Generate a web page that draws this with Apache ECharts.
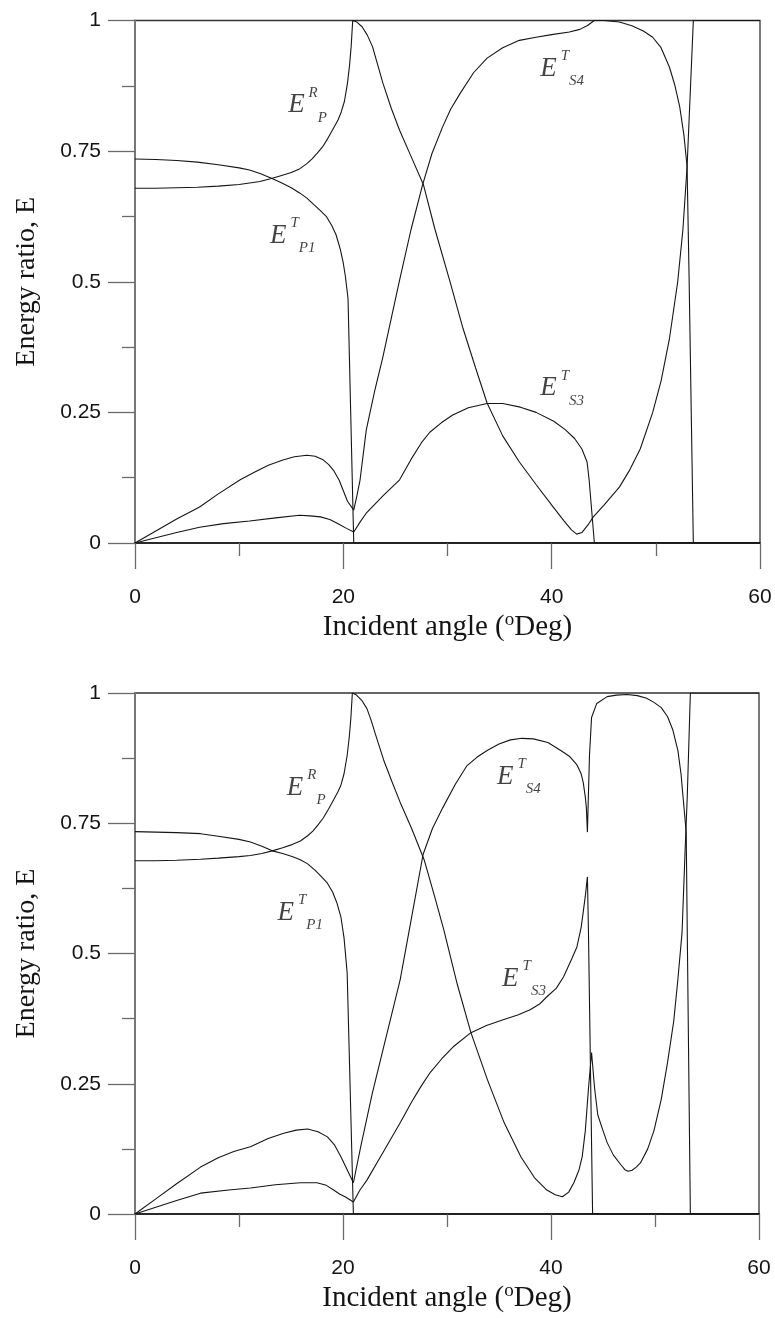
<!DOCTYPE html>
<html>
<head>
<meta charset="utf-8">
<script src="https://cdn.jsdelivr.net/npm/echarts@6/dist/echarts.min.js"></script>
<style>
html,body{margin:0;padding:0;background:#fff;}
#c{width:775px;height:1318px;}
</style>
</head>
<body>
<div id="c"></div>
<script>
// ---------- tick labels ----------
const xTicks = [0, 20, 40, 60];
const yTicks = [0, 0.25, 0.5, 0.75, 1];

// ---------- top panel series: [incident angle (deg), energy ratio] ----------
const topRP = [[0,0.679],[2,0.679],[4,0.68],[6,0.681],[8,0.683],[10,0.686],[11,0.689],[12,0.692],[13,0.697],[14,0.703],[15,0.709],[15.8,0.716],[16.5,0.726],[17,0.735],[17.5,0.746],[18,0.758],[18.5,0.774],[19,0.792],[19.5,0.81],[19.8,0.825],[20.1,0.845],[20.4,0.88],[20.6,0.915],[20.75,0.95],[20.9,1.0],[21.3,0.997],[21.8,0.988],[22.3,0.972],[22.8,0.95],[23.3,0.915],[23.8,0.88],[24.6,0.832],[25.4,0.79],[26.5,0.74],[27.7,0.685],[28.8,0.6],[30.2,0.503],[31.5,0.41],[32.7,0.335],[33.8,0.268],[35.3,0.205],[36.9,0.155],[38.5,0.112],[40.1,0.07],[41.2,0.042],[41.9,0.025],[42.4,0.017],[42.9,0.02],[43.5,0.035],[44,0.05],[45,0.072],[46.5,0.107],[47.5,0.14],[48.5,0.18],[49.7,0.25],[50.5,0.31],[51.3,0.39],[52.1,0.5],[52.6,0.6],[53,0.72],[53.3,0.86],[53.6,1.0],[60,1.0]];
const topTP1 = [[0,0.735],[2,0.734],[4,0.732],[6,0.729],[8,0.724],[10,0.718],[11,0.714],[12,0.707],[13.1,0.698],[14,0.69],[15,0.68],[15.8,0.67],[16.5,0.66],[17.2,0.647],[17.8,0.636],[18.4,0.624],[18.9,0.607],[19.3,0.59],[19.7,0.563],[20,0.535],[20.2,0.51],[20.45,0.468],[21.0,0],[60,0]];
const topTS4 = [[0,0],[2,0.023],[4,0.046],[6.2,0.069],[8,0.094],[10.1,0.121],[11.5,0.136],[12.8,0.149],[14.2,0.159],[15.3,0.165],[16.5,0.168],[17.3,0.166],[18,0.16],[18.6,0.15],[19.1,0.138],[19.6,0.12],[20,0.1],[20.4,0.08],[21.0,0.063],[21.3,0.09],[21.6,0.12],[22.2,0.216],[23,0.29],[23.8,0.356],[24.6,0.43],[25.4,0.503],[26.5,0.6],[27.6,0.685],[28.5,0.745],[29.5,0.795],[30.3,0.83],[31.2,0.86],[32.5,0.9],[33.8,0.928],[35.3,0.948],[36.9,0.962],[38.5,0.968],[40,0.973],[41.7,0.978],[42.7,0.983],[43.4,0.99],[44.1,1.0],[45,1.0],[46.5,0.997],[47.7,0.99],[48.8,0.98],[49.7,0.968],[50.5,0.948],[51.3,0.911],[51.8,0.878],[52.3,0.834],[52.7,0.78],[53,0.72],[53.2,0.5],[53.4,0.25],[53.6,0],[60,0]];
const topTS3 = [[0,0],[2,0.01],[4,0.02],[6.2,0.03],[8.5,0.037],[11,0.042],[13.5,0.048],[15.8,0.053],[16.8,0.052],[17.8,0.05],[18.7,0.045],[19.5,0.037],[20.3,0.028],[21.0,0.021],[21.6,0.04],[22.2,0.057],[23.8,0.09],[25.4,0.121],[26.5,0.16],[27.5,0.192],[28.3,0.212],[29.4,0.23],[30.5,0.245],[32,0.259],[33.8,0.267],[35.3,0.267],[37,0.26],[38.5,0.25],[40.2,0.233],[41.3,0.217],[42.2,0.2],[42.9,0.18],[43.4,0.155],[43.6,0.12],[44.1,0],[60,0]];

// ---------- bottom panel series ----------
const botRP = [[0,0.678],[2,0.678],[4,0.679],[6.3,0.681],[8,0.683],[10,0.686],[11.1,0.688],[12.2,0.692],[13.2,0.697],[14.2,0.703],[15.1,0.709],[15.9,0.716],[16.6,0.726],[17.1,0.735],[17.6,0.747],[18.1,0.76],[18.6,0.777],[19.1,0.795],[19.5,0.81],[19.8,0.823],[20.1,0.845],[20.4,0.88],[20.6,0.915],[20.75,0.95],[20.9,1.0],[21.3,0.996],[21.8,0.986],[22.3,0.97],[22.7,0.948],[23.1,0.922],[23.9,0.872],[24.7,0.83],[25.5,0.79],[26.6,0.74],[27.8,0.68],[28.8,0.61],[29.7,0.545],[31,0.44],[32.3,0.348],[33.9,0.257],[35.5,0.175],[37.1,0.11],[38.4,0.07],[39.6,0.046],[40.4,0.037],[41.1,0.033],[41.7,0.042],[42.2,0.06],[42.7,0.085],[43.0,0.11],[43.3,0.16],[43.6,0.24],[43.9,0.31],[44.2,0.24],[44.5,0.19],[45,0.16],[45.4,0.137],[46,0.113],[46.7,0.095],[47.1,0.085],[47.4,0.082],[47.8,0.084],[48.2,0.09],[48.6,0.098],[49.3,0.125],[49.9,0.16],[50.6,0.22],[51.2,0.29],[51.8,0.37],[52.2,0.45],[52.6,0.54],[52.9,0.70],[53.1,0.80],[53.4,1.0],[60,1.0]];
const botTP1 = [[0,0.734],[2,0.733],[4,0.732],[6.3,0.73],[8,0.725],[10,0.719],[11.1,0.714],[12.2,0.706],[13.2,0.697],[14.2,0.692],[15.1,0.686],[15.9,0.68],[16.6,0.672],[17.3,0.66],[17.9,0.648],[18.5,0.635],[19,0.618],[19.4,0.598],[19.8,0.57],[20.1,0.53],[20.4,0.463],[21.0,0],[60,0]];
const botTS4 = [[0,0],[2,0.029],[4,0.058],[6.3,0.09],[8,0.108],[9.5,0.12],[11.1,0.129],[12.8,0.145],[14.3,0.155],[15.5,0.161],[16.6,0.163],[17.6,0.158],[18.5,0.148],[19.2,0.132],[19.8,0.11],[20.4,0.085],[21.0,0.06],[21.7,0.129],[22.8,0.23],[23.9,0.32],[25.5,0.45],[26.6,0.57],[27.7,0.69],[28.6,0.74],[29.6,0.78],[30.8,0.825],[31.9,0.86],[32.9,0.877],[33.9,0.89],[35,0.902],[36.1,0.91],[37.2,0.913],[38.3,0.912],[39.7,0.905],[40.9,0.89],[41.8,0.878],[42.5,0.862],[42.9,0.845],[43.1,0.828],[43.3,0.8],[43.4,0.78],[43.5,0.733],[43.7,0.88],[43.9,0.953],[44.4,0.98],[45.4,0.993],[46.3,0.996],[47.3,0.997],[48.3,0.995],[49.2,0.99],[49.9,0.982],[50.6,0.972],[51.2,0.955],[51.7,0.93],[52.2,0.89],[52.5,0.845],[52.7,0.8],[53.0,0.733],[53.1,0.545],[53.4,0],[60,0]];
const botTS3 = [[0,0],[2,0.013],[4,0.026],[6.3,0.04],[9,0.046],[11.1,0.05],[13.5,0.056],[15.9,0.06],[17.5,0.06],[18.4,0.055],[19.1,0.046],[19.7,0.038],[20.2,0.033],[21.0,0.023],[21.6,0.045],[22.3,0.065],[23.9,0.12],[25.5,0.175],[26.6,0.215],[27.5,0.245],[28.4,0.272],[29.5,0.298],[30.6,0.321],[32.3,0.348],[33.8,0.362],[35.4,0.373],[36.8,0.382],[38.0,0.392],[38.9,0.403],[39.6,0.417],[40.5,0.433],[41.2,0.455],[42.0,0.49],[42.5,0.513],[42.9,0.55],[43.1,0.58],[43.3,0.61],[43.5,0.647],[43.6,0.545],[44.0,0],[60,0]];

// ---------- curve annotations: [x, y, superscript, subscript] ----------
const topLabels = [[14.7,0.838,'R','P'],[12.96,0.588,'T','P1'],[38.9,0.908,'T','S4'],[38.9,0.296,'T','S3']];
const botLabels = [[14.6,0.818,'R','P'],[13.7,0.578,'T','P1'],[34.8,0.839,'T','S4'],[35.3,0.451,'T','S3']];

const xTitle = 'Incident angle (';
const xTitleSup = 'o';
const xTitleEnd = 'Deg)';
const yTitle = 'Energy ratio, E';

const LINE = '#151515';
const AXIS = '#6a6a6a';
const TEXT = '#141414';
const sans = '"Liberation Sans", Arial, sans-serif';
const serif = '"Liberation Serif", "Times New Roman", serif';

function makeX(gi) {
  return {
    gridIndex: gi, type: 'value', min: xTicks[0], max: xTicks[xTicks.length-1], interval: xTicks[1]-xTicks[0],
    axisLine: {show: true, onZero: false, lineStyle: {color: '#2a2a2a', width: 2.2}},
    axisTick: {show: true, inside: false, length: 26, lineStyle: {color: AXIS, width: 1.3}},
    minorTick: {show: true, splitNumber: 2, length: 13, lineStyle: {color: AXIS, width: 1.3}},
    splitLine: {show: false}, minorSplitLine: {show: false},
    axisLabel: {margin: 44, fontFamily: sans, fontSize: 21, color: TEXT},
    name: '{a|' + xTitle + '}{s|' + xTitleSup + '}{a|' + xTitleEnd + '}',
    nameLocation: 'middle', nameGap: 68,
    nameTextStyle: {
      fontFamily: serif, fontSize: 29, color: TEXT,
      rich: {
        a: {fontFamily: serif, fontSize: 29, color: TEXT, lineHeight: 33},
        s: {fontFamily: serif, fontSize: 19, color: TEXT, lineHeight: 19, verticalAlign: 'top'}
      }
    }
  };
}
function makeY(gi) {
  return {
    gridIndex: gi, type: 'value', min: yTicks[0], max: yTicks[yTicks.length-1], interval: yTicks[1]-yTicks[0],
    axisLine: {show: true, onZero: false, lineStyle: {color: '#777', width: 2}},
    axisTick: {show: true, inside: false, length: 27, lineStyle: {color: AXIS, width: 1.3}},
    minorTick: {show: true, splitNumber: 2, length: 13, lineStyle: {color: AXIS, width: 1.3}},
    splitLine: {show: false}, minorSplitLine: {show: false},
    axisLabel: {margin: 34, fontFamily: sans, fontSize: 21, color: TEXT},
    name: yTitle, nameLocation: 'middle', nameGap: 94, nameRotate: 90,
    nameTextStyle: {fontFamily: serif, fontSize: 28, color: TEXT}
  };
}
function lineSeries(data, gi) {
  return {type: 'line', xAxisIndex: gi, yAxisIndex: gi, data: data, showSymbol: false, symbol: 'none',
    smooth: false, clip: true, silent: true, animation: false,
    lineStyle: {color: LINE, width: 1.1}};
}
function labelSeries(labels, gi) {
  return {type: 'scatter', xAxisIndex: gi, yAxisIndex: gi, symbolSize: 0, silent: true, animation: false,
    data: labels.map(l => ({value: [l[0], l[1]], sup: l[2], sub: l[3]})),
    label: {show: true, position: 'right', distance: 0,
      formatter: p => '{e|E}{sup|' + p.data.sup + '}{sub|' + p.data.sub + '}',
      rich: {
        e: {fontFamily: serif, fontStyle: 'italic', fontSize: 27, color: TEXT, lineHeight: 40},
        sup: {fontFamily: serif, fontStyle: 'italic', fontSize: 15, color: TEXT, lineHeight: 20, verticalAlign: 'top', padding: [0,0,0,4]},
        sub: {fontFamily: serif, fontStyle: 'italic', fontSize: 15, color: TEXT, lineHeight: 24, verticalAlign: 'bottom'}
      }
    }};
}

const chart = echarts.init(document.getElementById('c'), null, {renderer: 'canvas'});
chart.setOption({
  animation: false,
  backgroundColor: '#fff',
  grid: [
    {left: 135, right: 15, top: 20.5, height: 522.5, show: true, borderColor: '#333', borderWidth: 1.3, backgroundColor: 'transparent'},
    {left: 135, right: 16, top: 693, height: 521, show: true, borderColor: '#333', borderWidth: 1.3, backgroundColor: 'transparent'}
  ],
  xAxis: [makeX(0), makeX(1)],
  yAxis: [makeY(0), makeY(1)],
  series: [
    lineSeries(topRP, 0), lineSeries(topTP1, 0), lineSeries(topTS4, 0), lineSeries(topTS3, 0),
    lineSeries(botRP, 1), lineSeries(botTP1, 1), lineSeries(botTS4, 1), lineSeries(botTS3, 1),
    labelSeries(topLabels, 0), labelSeries(botLabels, 1)
  ]
});
</script>
</body>
</html>
